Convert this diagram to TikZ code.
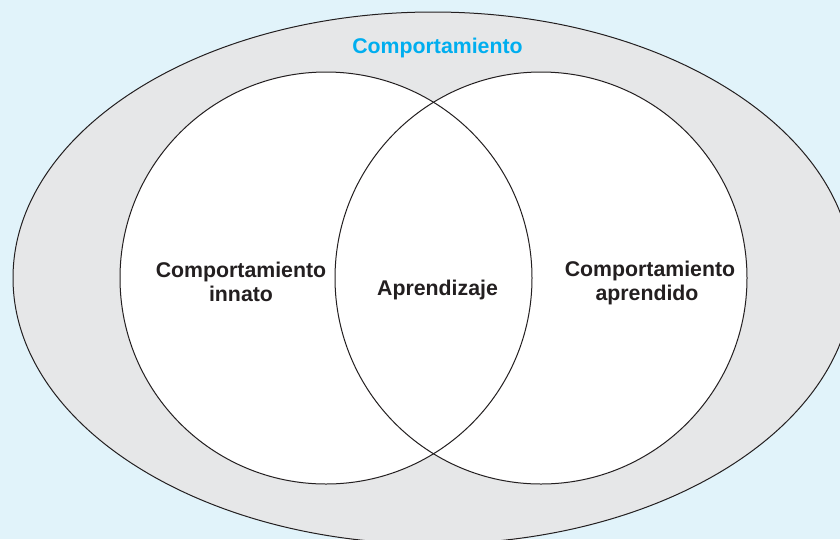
\documentclass[tikz,border=0pt]{standalone}
\usepackage{fontspec}
\setmainfont{Liberation Sans}
\definecolor{bgblue}{HTML}{E1F3FA}
\definecolor{ellgray}{HTML}{E6E7E8}
\definecolor{titlecyan}{HTML}{00AEEF}
\definecolor{txt}{HTML}{231F20}
\begin{document}
\begin{tikzpicture}[x=1pt,y=-1pt,
  lbl/.style={font=\fontsize{21.3}{24}\selectfont\bfseries, text=txt, anchor=base, inner sep=0pt},
  outline/.style={draw=txt, line width=1pt}]
\useasboundingbox (0,0) rectangle (840,539);
\clip (0,0) rectangle (840,539);
\fill[bgblue] (0,0) rectangle (840,539);
\draw[outline, fill=ellgray] (433,278) ellipse [x radius=420, y radius=266];
\fill[white] (326,278) circle [radius=206];
\fill[white] (541,278) circle [radius=206];
\draw[outline] (326,278) circle [radius=206];
\draw[outline] (541,278) circle [radius=206];
\node[lbl, text=titlecyan] (titulo) at (437.5,53) {Comportamiento};
\node[lbl] (innatoA) at (241,277) {Comportamiento};
\node[lbl] (innatoB) at (241,301) {innato};
\node[lbl] (apren) at (437.5,295) {Aprendizaje};
\node[lbl] (aprendA) at (650,276) {Comportamiento};
\node[lbl] (aprendB) at (647,300) {aprendido};
\end{tikzpicture}
\end{document}
